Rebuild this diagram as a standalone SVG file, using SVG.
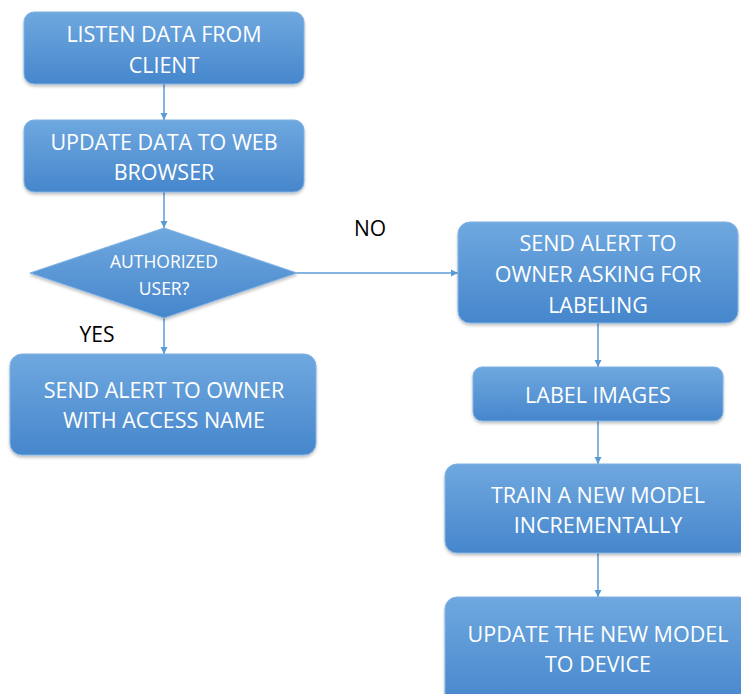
<svg xmlns="http://www.w3.org/2000/svg" width="741" height="694" viewBox="0 0 741 694">
  <style>
    .box { fill: url(#boxFill); stroke: #7fb2e4; stroke-width: 1; filter: url(#shadow); }
    .lbl { fill: #ffffff; font-family: "Open Sans", "Liberation Sans", sans-serif; font-size: 21.5px; text-anchor: middle; dominant-baseline: central; }
    .small { font-size: 17.5px; }
    .note { fill: #000000; font-family: "Open Sans", "Liberation Sans", sans-serif; font-size: 21px; text-anchor: middle; dominant-baseline: central; }
    .edge { stroke: #5b9bd5; stroke-width: 1.5; fill: none; marker-end: url(#arrow); }
  </style>
  <defs>
    <linearGradient id="boxFill" x1="0" y1="0" x2="0" y2="1">
      <stop offset="0" stop-color="#6fa8df"/>
      <stop offset="1" stop-color="#4686cc"/>
    </linearGradient>
    <filter id="shadow" x="-10%" y="-10%" width="120%" height="130%">
      <feDropShadow dx="0" dy="2" stdDeviation="1.5" flood-color="#000" flood-opacity="0.25"/>
    </filter>
    <marker id="arrow" markerWidth="8" markerHeight="8" refX="7" refY="4" orient="auto" markerUnits="userSpaceOnUse">
      <path d="M0,0.5 L7,4 L0,7.5 Z" fill="#5b9bd5"/>
    </marker>
  </defs>

  <g id="connectors">
    <line class="edge" x1="164" y1="84" x2="164" y2="120"/>
    <line class="edge" x1="164" y1="192" x2="164" y2="228"/>
    <line class="edge" x1="164" y1="318" x2="164" y2="354"/>
    <line class="edge" x1="297" y1="273" x2="458" y2="273"/>
    <line class="edge" x1="598" y1="323" x2="598" y2="367"/>
    <line class="edge" x1="598" y1="421" x2="598" y2="464"/>
    <line class="edge" x1="598" y1="553" x2="598" y2="597"/>
    <text class="note" x="97" y="334">YES</text>
    <text class="note" x="370" y="228">NO</text>
  </g>

  <g id="listen">
    <rect class="box" x="24" y="12" width="280" height="72" rx="10"/>
    <text class="lbl" x="164" y="33">LISTEN DATA FROM</text>
    <text class="lbl" x="164" y="64">CLIENT</text>
  </g>

  <g id="update-browser">
    <rect class="box" x="24" y="120" width="280" height="72" rx="10"/>
    <text class="lbl" x="164" y="141">UPDATE DATA TO WEB</text>
    <text class="lbl" x="164" y="171">BROWSER</text>
  </g>

  <g id="authorized">
    <polygon class="box" points="164,228 297,273 164,318 30,273"/>
    <text class="lbl small" x="164" y="261">AUTHORIZED</text>
    <text class="lbl small" x="164" y="288">USER?</text>
  </g>

  <g id="alert-access">
    <rect class="box" x="10" y="354" width="306" height="101" rx="12"/>
    <text class="lbl" x="164" y="389">SEND ALERT TO OWNER</text>
    <text class="lbl" x="164" y="419">WITH ACCESS NAME</text>
  </g>

  <g id="alert-labeling">
    <rect class="box" x="458" y="222" width="280" height="101" rx="12"/>
    <text class="lbl" x="598" y="242">SEND ALERT TO</text>
    <text class="lbl" x="598" y="273">OWNER ASKING FOR</text>
    <text class="lbl" x="598" y="304">LABELING</text>
  </g>

  <g id="label-images">
    <rect class="box" x="473" y="367" width="250" height="54" rx="9"/>
    <text class="lbl" x="598" y="394">LABEL IMAGES</text>
  </g>

  <g id="train-model">
    <rect class="box" x="445" y="464" width="306" height="89" rx="12"/>
    <text class="lbl" x="598" y="494">TRAIN A NEW MODEL</text>
    <text class="lbl" x="598" y="524">INCREMENTALLY</text>
  </g>

  <g id="update-device">
    <rect class="box" x="445" y="597" width="306" height="110" rx="12"/>
    <text class="lbl" x="598" y="633">UPDATE THE NEW MODEL</text>
    <text class="lbl" x="598" y="663">TO DEVICE</text>
  </g>
</svg>
